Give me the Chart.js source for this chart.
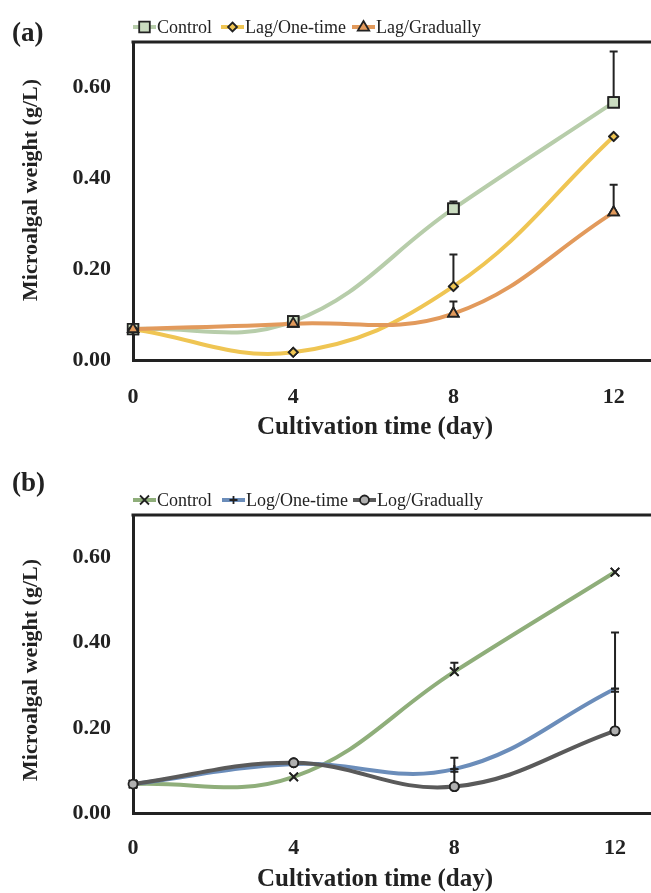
<!DOCTYPE html>
<html><head><meta charset="utf-8">
<script src="https://cdn.jsdelivr.net/npm/chart.js@4.4.1/dist/chart.umd.min.js"></script>
<style>
html,body{margin:0;padding:0;background:#fff;overflow:hidden;width:651px;height:893px;}
.panel{position:absolute;left:0;width:661px;}
#pa{top:0;height:450px;}
#pb{top:450px;height:443px;}
</style></head><body>
<div class="panel" id="pa"><canvas id="ca"></canvas></div>
<div class="panel" id="pb"><canvas id="cb"></canvas></div>
<script>
// ---- data ----
const days = [0, 4, 8, 12];
const xTicks = [0, 4, 8, 12];
const yTicks = [0, 0.2, 0.4, 0.6];
const xTitle = 'Cultivation time (day)';
const yTitle = 'Microalgal weight (g/L)';

// Panel (a)
const aLabels = ['Control', 'Lag/One-time', 'Lag/Gradually'];
const aControl = [0.068, 0.085, 0.333, 0.567];
const aControlErr = [0, 0, 0.016, 0.112];
const aLagOne = [0.068, 0.017, 0.162, 0.492];
const aLagOneErr = [0, 0, 0.070, 0];
const aLagGrad = [0.068, 0.080, 0.102, 0.325];
const aLagGradErr = [0, 0, 0.027, 0.061];

// Panel (b)
const bLabels = ['Control', 'Log/One-time', 'Log/Gradually'];
const bControl = [0.068, 0.085, 0.332, 0.566];
const bControlErr = [0, 0, 0.021, 0];
const bLogOne = [0.068, 0.115, 0.103, 0.292];
const bLogOneErr = [0, 0, 0.027, 0.132];
const bLogGrad = [0.068, 0.118, 0.062, 0.193];
const bLogGradErr = [0, 0, 0.035, 0.092];

// ---- rendering ----
const FONT = '"Liberation Serif", "Times New Roman", serif';
const INK = '#222222';

function drawMarker(ctx, style, x, y, r, fill) {
  ctx.save();
  ctx.fillStyle = fill; ctx.strokeStyle = INK; ctx.lineWidth = 1.8;
  ctx.beginPath();
  if (style === 'rect') { const s = Math.SQRT1_2 * r; ctx.rect(x - s, y - s, 2 * s, 2 * s); ctx.fill(); ctx.stroke(); }
  else if (style === 'rectRot') { ctx.moveTo(x, y - r); ctx.lineTo(x + r, y); ctx.lineTo(x, y + r); ctx.lineTo(x - r, y); ctx.closePath(); ctx.fill(); ctx.stroke(); }
  else if (style === 'triangle') { ctx.moveTo(x, y - r); ctx.lineTo(x + r * 0.95, y + r * 0.6); ctx.lineTo(x - r * 0.95, y + r * 0.6); ctx.closePath(); ctx.fill(); ctx.stroke(); }
  else if (style === 'circle') { ctx.arc(x, y, r, 0, Math.PI * 2); ctx.fill(); ctx.stroke(); }
  else if (style === 'crossRot') { const s = r * 0.75; ctx.moveTo(x - s, y - s); ctx.lineTo(x + s, y + s); ctx.moveTo(x + s, y - s); ctx.lineTo(x - s, y + s); ctx.stroke(); }
  else if (style === 'cross') { ctx.moveTo(x - r, y); ctx.lineTo(x + r, y); ctx.moveTo(x, y - r); ctx.lineTo(x, y + r); ctx.stroke(); }
  ctx.restore();
}

const extras = {
  id: 'extras',
  afterDatasetsDraw(chart) {
    const ctx = chart.ctx, xs = chart.scales.x, ys = chart.scales.y;
    ctx.save();
    ctx.strokeStyle = INK; ctx.lineWidth = 2;
    chart.data.datasets.forEach((ds) => {
      (ds.err || []).forEach((e, i) => {
        if (!e) return;
        const x = xs.getPixelForValue(days[i]);
        const y0 = ys.getPixelForValue(ds.data[i].y);
        const y1 = ys.getPixelForValue(ds.data[i].y + e);
        ctx.beginPath(); ctx.moveTo(x, y0); ctx.lineTo(x, y1);
        ctx.moveTo(x - 4, y1); ctx.lineTo(x + 4, y1); ctx.stroke();
      });
    });
    ctx.restore();
    // redraw markers on top of error bars
    chart.getSortedVisibleDatasetMetas().slice().reverse().forEach(meta => {
      meta.data.forEach(pt => pt.draw(ctx, chart.chartArea));
    });
  },
  afterDraw(chart, args, opts) {
    const ctx = chart.ctx, ca = chart.chartArea;
    ctx.save();
    // top frame line
    ctx.strokeStyle = INK; ctx.lineWidth = 3;
    ctx.beginPath(); ctx.moveTo(ca.left - 1.5, ca.top); ctx.lineTo(chart.width, ca.top); ctx.stroke();
    // panel label
    ctx.fillStyle = INK; ctx.textBaseline = 'middle'; ctx.textAlign = 'left';
    ctx.font = 'bold 27px ' + FONT;
    ctx.fillText(opts.panel, 12, opts.panelY);
    // legend
    ctx.font = '18px ' + FONT;
    opts.legend.forEach((it, k) => {
      const ds = chart.data.datasets[k];
      ctx.strokeStyle = ds.borderColor; ctx.lineWidth = 4;
      ctx.beginPath(); ctx.moveTo(it.x0, opts.legendY); ctx.lineTo(it.x0 + 23, opts.legendY); ctx.stroke();
      drawMarker(ctx, ds.pointStyle, it.x0 + 11.5, opts.legendY, ds.pointRadius, ds.pointBackgroundColor);
      ctx.fillStyle = INK; ctx.textAlign = 'left'; ctx.textBaseline = 'middle';
      ctx.fillText(ds.label, it.x0 + 24, opts.legendY + 1);
    });
    // axis titles
    ctx.font = 'bold 25px ' + FONT;
    ctx.textAlign = 'center'; ctx.textBaseline = 'middle';
    ctx.fillText(xTitle, 375, opts.xTitleY);
    ctx.save();
    ctx.translate(31, opts.yTitleY); ctx.rotate(-Math.PI / 2);
    ctx.font = 'bold 22px ' + FONT;
    ctx.fillText(yTitle, 0, 0);
    ctx.restore();
    ctx.restore();
  }
};

function series(label, vals, err, color, style, radius, fill, order) {
  return {
    label, err, order,
    data: days.map((d, i) => ({ x: d, y: vals[i] })),
    borderColor: color, borderWidth: 4, tension: 0.4, fill: false,
    pointStyle: style, pointRadius: radius, pointHoverRadius: radius,
    pointBackgroundColor: fill, pointBorderColor: INK, pointBorderWidth: 1.8,
    cubicInterpolationMode: 'default'
  };
}

function makeChart(id, datasets, p) {
  return new Chart(document.getElementById(id), {
    type: 'line',
    data: { datasets },
    plugins: [extras],
    options: {
      responsive: true, maintainAspectRatio: false, animation: false, devicePixelRatio: 1,
      layout: { padding: { top: p.top, left: 0, right: 0, bottom: 0 } },
      plugins: { legend: { display: false }, tooltip: { enabled: false }, extras: p },
      scales: {
        x: {
          type: 'linear', min: 0, max: 12.95,
          afterBuildTicks: s => { s.ticks = xTicks.map(v => ({ value: v })); },
          afterFit: s => { s.height = p.xh; },
          grid: { display: false, drawTicks: false },
          border: { display: true, color: INK, width: 3 },
          ticks: { padding: p.xpad, color: INK, font: { family: FONT, size: 22, weight: 'bold' } }
        },
        y: {
          type: 'linear', min: 0, max: 0.7,
          afterBuildTicks: s => { s.ticks = yTicks.map(v => ({ value: v })); },
          afterFit: s => { s.width = 133; },
          grid: { display: false, drawTicks: false },
          border: { display: true, color: INK, width: 3 },
          ticks: { padding: 22, color: INK, callback: v => Number(v).toFixed(2), font: { family: FONT, size: 22, weight: 'bold' } }
        }
      }
    }
  });
}

makeChart('ca', [
  series(aLabels[0], aControl, aControlErr, '#b7cdaa', 'rect', 7.5, '#cadcc0', 3),
  series(aLabels[1], aLagOne, aLagOneErr, '#efc553', 'rectRot', 4.5, '#efc553', 2),
  series(aLabels[2], aLagGrad, aLagGradErr, '#e29a5c', 'triangle', 6, '#e29a5c', 1)
], { top: 42, xh: 90, xpad: 24, panel: '(a)', panelY: 34, legendY: 27,
     legend: [{ x0: 133 }, { x0: 221 }, { x0: 352 }], xTitleY: 428, yTitleY: 190 });

makeChart('cb', [
  series(bLabels[0], bControl, bControlErr, '#8fae7a', 'crossRot', 6, INK, 3),
  series(bLabels[1], bLogOne, bLogOneErr, '#6b8dba', 'cross', 4, INK, 2),
  series(bLabels[2], bLogGrad, bLogGradErr, '#5a5a5a', 'circle', 4.5, '#b0b0b0', 1)
], { top: 65, xh: 80, xpad: 22, panel: '(b)', panelY: 34, legendY: 50,
     legend: [{ x0: 133 }, { x0: 222 }, { x0: 353 }], xTitleY: 430, yTitleY: 220 });
</script>
</body></html>
